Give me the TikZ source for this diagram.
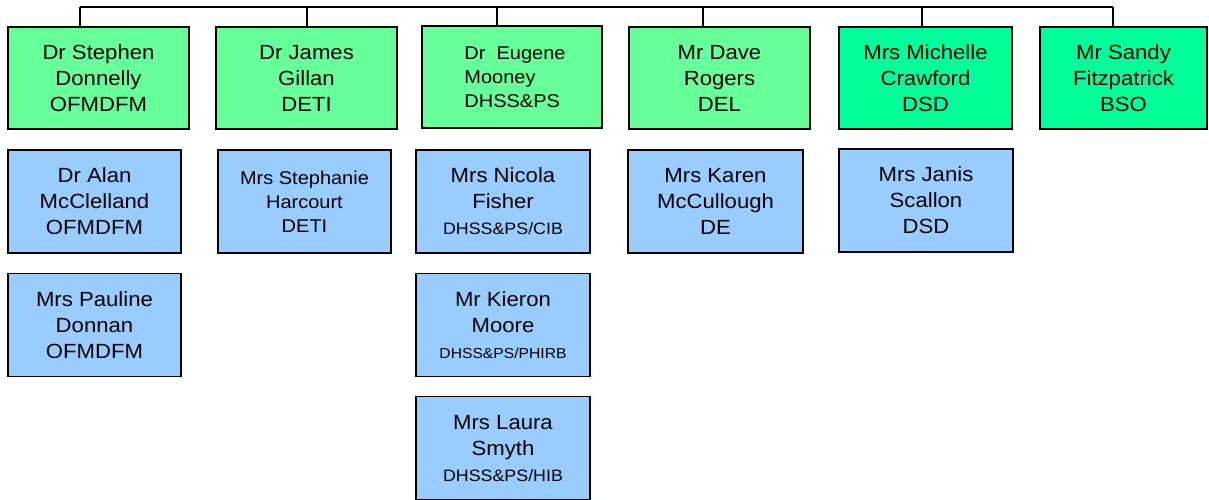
\documentclass[tikz,border=0pt]{standalone}
\usepackage{fontspec}
\setmainfont[FakeStretch=1.08]{Liberation Sans}
\usetikzlibrary{positioning}
\definecolor{mgreen}{rgb}{0.4, 1, 0.6}
\definecolor{mteal}{rgb}{0, 1, 0.6}
\definecolor{mblue}{rgb}{0.6, 0.8, 1}
\tikzset{member/.style = {draw, line width=1.3pt, inner sep=0pt, align=center,
                          font=\fontsize{20.5}{26}\selectfont}}
\tikzset{head/.style = {member, fill=mgreen, minimum width=181pt, minimum height=102pt}}
\tikzset{deputy/.style = {member, fill=mblue, minimum width=174pt, minimum height=103pt}}
\tikzset{bus/.style = {line width=1.3pt}}
\newcommand{\smalltext}{\fontsize{18.5}{24}\selectfont}
\newcommand{\dept}{\fontsize{16.5}{22}\selectfont}

\begin{document}
\begin{tikzpicture}[x=1pt, y=-1pt]
      \useasboundingbox (0, 0) rectangle (1209, 500);
      \node [head] (stephen) at (98.5, 78) {Dr Stephen\\Donnelly\\OFMDFM};
      \node [head] (james) at (306.5, 78) {Dr James\\Gillan\\DETI};
      \node [head, minimum width=180pt, align=left, font=\smalltext] (eugene) at (512, 77)
            {\hspace*{6pt}Dr\ \ Eugene\\\hspace*{6pt}Mooney\\\hspace*{6pt}DHSS\&PS};
      \node [head] (dave) at (719.5, 78) {Mr Dave\\Rogers\\DEL};
      \node [head, fill=mteal, minimum width=173pt] (michelle) at (925.5, 78)
            {Mrs Michelle\\Crawford\\DSD};
      \node [head, fill=mteal, minimum width=167pt] (sandy) at (1123.5, 78)
            {Mr Sandy\\Fitzpatrick\\BSO};

      \node [deputy, minimum width=173pt] (alan) at (94.5, 201.5) {Dr Alan\\McClelland\\OFMDFM};
      \node [deputy, minimum width=173pt] (pauline) [below=19pt of alan] {Mrs Pauline\\Donnan\\OFMDFM};
      \node [deputy, minimum width=173pt, font=\smalltext] (stephanie) at (304.5, 201.5)
            {Mrs Stephanie\\Harcourt\\DETI};
      \node [deputy] (nicola) at (503, 201.5) {Mrs Nicola\\Fisher\\{\dept DHSS\&PS/CIB}};
      \node [deputy] (kieron) [below=19pt of nicola]
            {Mr Kieron\\Moore\\{\fontsize{14.5}{20}\selectfont DHSS\&PS/PHIRB}};
      \node [deputy] (laura) [below=19pt of kieron] {Mrs Laura\\Smyth\\{\dept DHSS\&PS/HIB}};
      \node [deputy, minimum width=175pt] (karen) at (715.5, 201.5) {Mrs Karen\\McCullough\\DE};
      \node [deputy] (janis) at (926, 200.5) {Mrs Janis\\Scallon\\DSD};

      \coordinate (t1) at (80, 7);
      \coordinate (t2) at (307, 7);
      \coordinate (t3) at (497, 7);
      \coordinate (t4) at (703, 7);
      \coordinate (t5) at (922, 7);
      \coordinate (t6) at (1113, 7);
      \draw [bus] (t1) -- (t6);
      \draw [bus] (t1) -- (t1 |- stephen.north);
      \draw [bus] (t2) -- (t2 |- james.north);
      \draw [bus] (t3) -- (t3 |- eugene.north);
      \draw [bus] (t4) -- (t4 |- dave.north);
      \draw [bus] (t5) -- (t5 |- michelle.north);
      \draw [bus] (t6) -- (t6 |- sandy.north);
    \end{tikzpicture}
\end{document}
